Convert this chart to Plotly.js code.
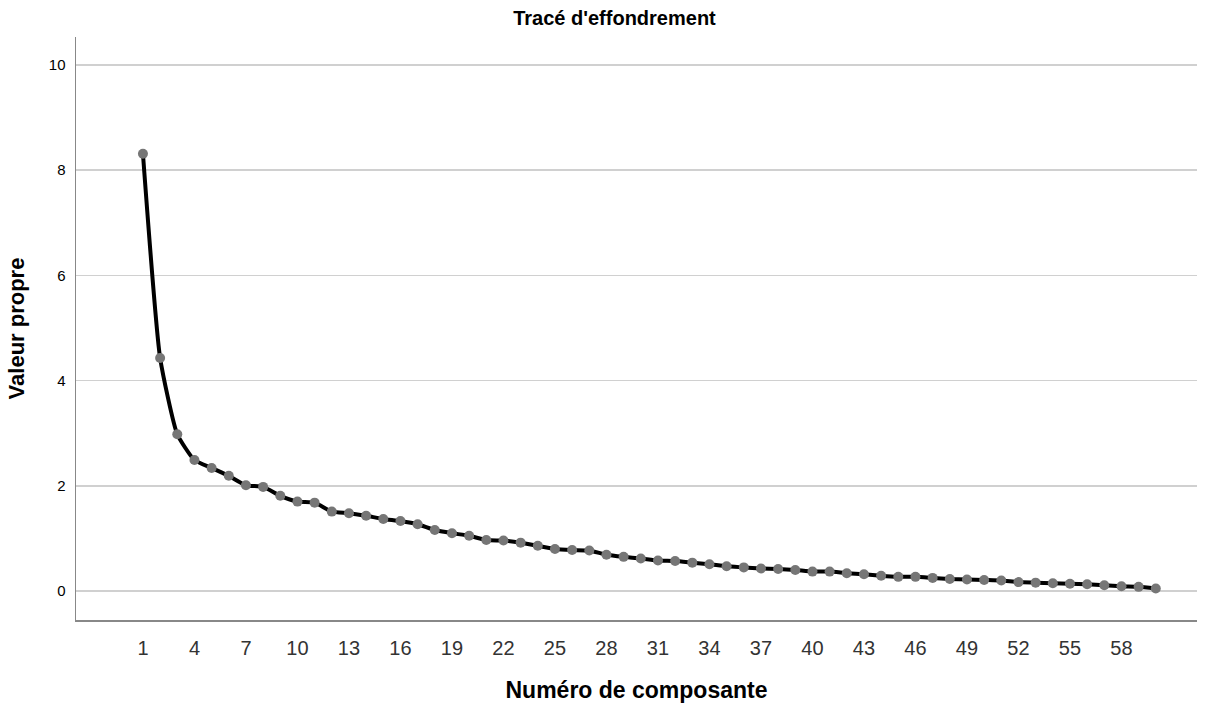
<!DOCTYPE html>
<html>
<head>
<meta charset="utf-8">
<script src="https://cdn.plot.ly/plotly-3.0.1.min.js"></script>
<style>html,body{margin:0;padding:0;background:#fff;}#chart{width:1212px;height:704px;}</style>
</head>
<body>
<div id="chart"></div>
<script>
const components = [];
for (let i = 1; i <= 60; i++) components.push(i);
const eigenvalues = [
  8.31, 4.43, 2.98, 2.49, 2.34, 2.19, 2.01, 1.98, 1.81, 1.70,
  1.68, 1.51, 1.48, 1.43, 1.37, 1.33, 1.27, 1.16, 1.10, 1.05,
  0.97, 0.96, 0.92, 0.86, 0.80, 0.78, 0.77, 0.69, 0.65, 0.62,
  0.58, 0.57, 0.54, 0.51, 0.47, 0.45, 0.43, 0.42, 0.40, 0.37,
  0.37, 0.34, 0.32, 0.29, 0.27, 0.27, 0.25, 0.23, 0.22, 0.21,
  0.20, 0.17, 0.16, 0.15, 0.14, 0.13, 0.11, 0.09, 0.08, 0.05
];
const xTickVals = [1,4,7,10,13,16,19,22,25,28,31,34,37,40,43,46,49,52,55,58];
const yTickVals = [0,2,4,6,8,10];

const trace = {
  x: components, y: eigenvalues, type: 'scatter', mode: 'lines+markers',
  line: {color: '#000', width: 4, shape: 'spline', smoothing: 0.5},
  marker: {color: '#767676', size: 10},
  hoverinfo: 'x+y'
};
const layout = {
  width: 1212, height: 704,
  margin: {l: 76, r: 15, t: 37, b: 84},
  paper_bgcolor: '#fff', plot_bgcolor: '#fff',
  showlegend: false,
  font: {family: 'Liberation Sans, Arial, sans-serif', color: '#000'},
  title: {text: "<b>Tracé d'effondrement</b>", x: 0.507, xanchor: 'center', y: 0.975, yanchor: 'middle',
          font: {size: 20, color: '#000', family: 'Liberation Sans, Arial, sans-serif'}},
  xaxis: {
    range: [-2.9, 62.4], tickmode: 'array', tickvals: xTickVals, ticktext: xTickVals.map(String),
    showgrid: false, zeroline: false, showline: true, linecolor: '#888', linewidth: 1.5,
    ticks: 'outside', ticklen: 9, tickcolor: 'rgba(0,0,0,0)',
    tickfont: {size: 20, color: '#333'},
    title: {text: '<b>Numéro de composante</b>', font: {size: 23, color: '#000'}, standoff: 24}
  },
  yaxis: {
    range: [-0.55, 10.53], tickmode: 'array', tickvals: yTickVals, ticktext: yTickVals.map(String),
    showgrid: true, gridcolor: '#d0d0d0', gridwidth: 1.5, zeroline: false,
    showline: true, linecolor: '#888', linewidth: 1.5,
    ticks: 'outside', ticklen: 6, tickcolor: 'rgba(0,0,0,0)',
    tickfont: {size: 15, color: '#000'},
    title: {text: '<b>Valeur propre</b>', font: {size: 22, color: '#000'}, standoff: 18}
  }
};
Plotly.newPlot('chart', [trace], layout, {displayModeBar: false, staticPlot: true});
</script>
</body>
</html>
